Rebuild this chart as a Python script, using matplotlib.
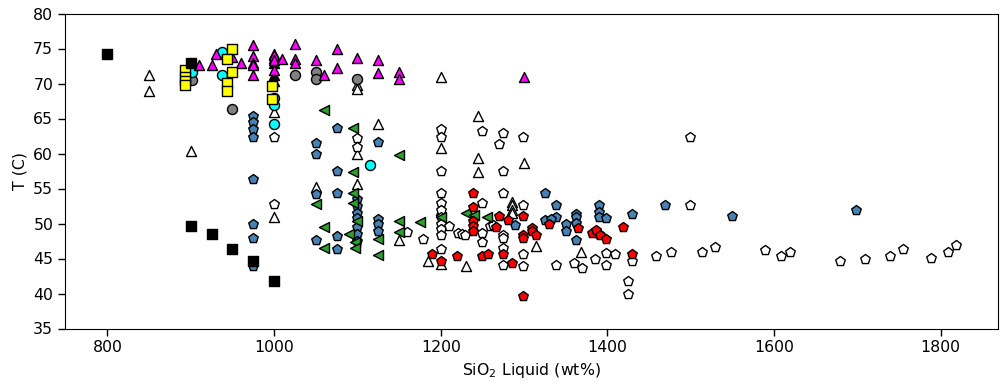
import matplotlib
matplotlib.use("Agg")
import matplotlib.pyplot as plt

# ---- data ----
black_sq_x = [800, 900, 900, 925, 950, 975, 1000]
black_sq_y = [74.2, 73.0, 49.7, 48.5, 46.4, 44.7, 41.8]

white_tri_x = [850, 850, 900, 1000, 1000, 1050, 1100, 1100, 1100, 1100, 1125, 1150, 1185,
               1200, 1200, 1200, 1200, 1230, 1245, 1245, 1245, 1285, 1285, 1285, 1285,
               1300, 1315, 1369]
white_tri_y = [71.2, 68.9, 60.4, 65.9, 51.0, 55.2, 69.8, 69.2, 60.0, 55.7, 64.2, 47.7, 44.6,
               71.0, 60.8, 52.0, 44.2, 44.0, 65.3, 59.3, 57.4, 53.1, 52.6, 52.0, 51.5,
               58.6, 46.8, 46.0]

white_pent_x = [1000, 1000, 1100, 1100, 1159, 1179, 1200, 1200, 1200, 1200, 1200, 1200,
                1200, 1200, 1200, 1200, 1200, 1210, 1221, 1225, 1229, 1250, 1250, 1250,
                1250, 1259, 1263, 1270, 1275, 1275, 1275, 1275, 1275, 1275, 1275, 1299,
                1299, 1299, 1299, 1339, 1360, 1370, 1385, 1399, 1409, 1399, 1430, 1425,
                1425, 1459, 1477, 1499, 1499, 1514, 1529, 1589, 1609, 1619, 1679, 1709,
                1739, 1755, 1789, 1809, 1819]
white_pent_y = [62.4, 52.8, 62.2, 61.0, 48.8, 47.8, 63.5, 62.3, 57.5, 54.3, 53.0, 52.0,
                51.0, 50.0, 49.2, 48.3, 46.3, 49.7, 48.6, 48.5, 48.3, 63.2, 53.0, 48.6,
                47.4, 49.7, 49.8, 61.4, 63.0, 57.5, 54.3, 48.4, 47.9, 46.5, 44.1, 62.4,
                52.7, 45.6, 44.0, 44.1, 44.3, 43.7, 44.9, 45.8, 45.6, 44.1, 44.6, 41.8,
                39.9, 45.4, 45.9, 62.4, 52.7, 46.0, 46.6, 46.2, 45.4, 45.9, 44.7, 44.9,
                45.3, 46.3, 45.1, 46.0, 46.9]

blue_pent_x = [975, 975, 975, 975, 975, 975, 975, 975, 1050, 1050, 1075, 1075, 1125, 1050,
               1075, 1050, 1075, 1075, 1125, 1125, 1125, 1100, 1100, 1100, 1100, 1100,
               1100, 1100, 1289, 1325, 1325, 1339, 1339, 1333, 1350, 1350, 1363, 1363,
               1363, 1363, 1390, 1390, 1390, 1399, 1390, 1430, 1469, 1550, 1699]
blue_pent_y = [65.3, 64.5, 63.5, 62.3, 56.3, 50.0, 48.0, 44.0, 61.5, 60.0, 63.6, 57.5, 61.7,
               54.2, 54.3, 47.7, 48.2, 46.3, 50.7, 50.0, 48.9, 53.5, 52.5, 51.5, 50.8,
               49.5, 48.5, 47.5, 49.8, 54.4, 50.5, 52.6, 51.0, 50.7, 50.0, 49.0, 51.4,
               51.0, 50.1, 47.7, 52.6, 51.6, 50.9, 50.8, 48.5, 51.4, 52.6, 51.1, 52.0]

green_x = [1060, 1095, 1150, 1095, 1050, 1060, 1060, 1095, 1095, 1099, 1090, 1097, 1097,
           1125, 1125, 1150, 1150, 1175, 1200, 1230, 1240, 1256]
green_y = [66.2, 63.6, 59.8, 57.4, 52.8, 49.5, 46.5, 54.3, 52.9, 50.3, 48.5, 47.4, 46.5,
           47.8, 45.5, 50.3, 48.8, 50.2, 50.9, 51.5, 51.2, 50.9]

red_x = [1190, 1200, 1220, 1239, 1239, 1239, 1239, 1239, 1250, 1257, 1270, 1281, 1266,
         1275, 1285, 1299, 1299, 1299, 1299, 1309, 1309, 1315, 1330, 1365, 1382, 1387,
         1391, 1398, 1419, 1430]
red_y = [45.7, 44.7, 45.3, 54.4, 52.4, 50.3, 49.6, 48.9, 45.3, 45.6, 51.1, 50.5, 49.5,
         45.6, 44.3, 51.1, 48.4, 47.9, 39.7, 49.3, 48.9, 48.4, 50.0, 49.3, 48.6, 49.1,
         48.4, 47.8, 49.5, 45.7]

grey_x = [902, 950, 1000, 1025, 1050, 1050, 1100]
grey_y = [70.5, 66.3, 68.0, 71.2, 71.7, 70.7, 70.7]

cyan_x = [902, 938, 938, 1000, 1000, 1115]
cyan_y = [71.7, 74.5, 71.2, 67.0, 64.2, 58.3]

magenta_x = [910, 925, 930, 950, 960, 975, 975, 975, 975, 975, 1000, 1000, 1000, 1010,
             1025, 1025, 1025, 1050, 1060, 1075, 1075, 1100, 1125, 1125, 1150, 1150, 1300]
magenta_y = [72.7, 72.7, 74.2, 73.8, 72.9, 75.5, 73.9, 73.0, 72.6, 71.2, 74.1, 73.4, 72.0,
             73.5, 75.6, 73.5, 72.9, 73.3, 71.2, 74.9, 72.2, 73.7, 73.3, 71.5, 71.7, 70.6,
             71.0]

black_tri_x = [1000, 1000, 1000, 1000, 1000]
black_tri_y = [74.2, 73.6, 73.0, 71.2, 70.4]

yellow_x = [893, 893, 893, 893, 950, 943, 950, 943, 943, 997, 997]
yellow_y = [72.0, 71.0, 70.3, 69.8, 74.9, 73.5, 71.7, 70.1, 68.9, 69.6, 67.8]

# ---- plot ----
fig = plt.figure(figsize=(10.01, 3.88), dpi=100)
ax = fig.add_axes([65 / 1001, 1 - 328.5 / 388, (998 - 65) / 1001, (328.5 - 13.5) / 388])

S = 52
kw = dict(edgecolors="black", linewidths=1.0, s=S)
ax.scatter(white_tri_x, white_tri_y, marker="^", facecolors="white", **kw)
ax.scatter(white_pent_x, white_pent_y, marker="p", facecolors="white", **kw)
ax.scatter(blue_pent_x, blue_pent_y, marker="p", facecolors="steelblue", **kw)
ax.scatter(green_x, green_y, marker="<", facecolors="#2ca02c", **kw)
ax.scatter(red_x, red_y, marker="p", facecolors="red", **kw)
ax.scatter(grey_x, grey_y, marker="o", facecolors="grey", **kw)
ax.scatter(cyan_x, cyan_y, marker="o", facecolors="cyan", **kw)
ax.scatter(black_tri_x, black_tri_y, marker="^", facecolors="black", **kw)
ax.scatter(magenta_x, magenta_y, marker="^", facecolors="magenta", **kw)
ax.scatter(yellow_x, yellow_y, marker="s", facecolors="yellow", **kw)
ax.scatter(black_sq_x, black_sq_y, marker="s", facecolors="black", **kw)

ax.set_xlim(749, 1869)
ax.set_ylim(35, 80)
ax.set_xticks([800, 1000, 1200, 1400, 1600, 1800])
ax.set_yticks([35, 40, 45, 50, 55, 60, 65, 70, 75, 80])
ax.tick_params(labelsize=11.3, length=5, width=1)
ax.set_xlabel("SiO$_2$ Liquid (wt%)", fontsize=11.3)
ax.set_ylabel("T (C)", fontsize=11.3)

fig.savefig("out.png", dpi=100)
